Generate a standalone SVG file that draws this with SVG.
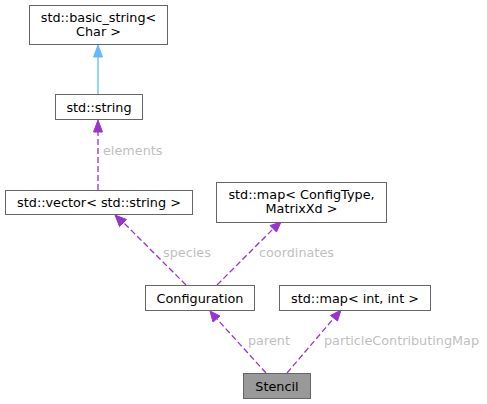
<svg xmlns="http://www.w3.org/2000/svg" width="487" height="404" viewBox="0 0 487 404">
<style>
.n{fill:#fff;stroke:#666;stroke-width:1}
.t{font-family:"DejaVu Sans",sans-serif;font-size:12.8px;fill:#000;text-anchor:middle}
.l{font-family:"DejaVu Sans",sans-serif;font-size:12.8px;fill:#bfbfbf}
.e{fill:none;stroke:#9a32cd;stroke-width:1.3;stroke-dasharray:6,3}
.h{fill:#9a32cd;stroke:#9a32cd}
</style>
<rect width="487" height="404" fill="#fff"/>
<g id="edges">
<line x1="98" y1="94" x2="98" y2="56" stroke="#63b8ff" stroke-width="1.3"/>
<polygon points="93.5,57 98,45 102.5,57" fill="#63b8ff" stroke="#63b8ff"/>
<line class="e" x1="98" y1="190" x2="98" y2="131"/>
<polygon class="h" points="93.5,132 98,120 102.5,132"/>
<text class="l" x="103" y="155">elements</text>
<line class="e" x1="186" y1="285" x2="123" y2="222"/>
<polygon class="h" points="119.5,226.5 115,215 126.5,219.5"/>
<text class="l" x="163" y="257">species</text>
<line class="e" x1="217" y1="285" x2="273" y2="229"/>
<polygon class="h" points="270,225.5 281,222 276.5,232"/>
<text class="l" x="259" y="257">coordinates</text>
<line class="e" x1="266" y1="373" x2="217" y2="319"/>
<polygon class="h" points="213,322 210,311 220,316"/>
<text class="l" x="248" y="345">parent</text>
<line class="e" x1="287" y1="373" x2="334" y2="318"/>
<polygon class="h" points="330.5,315.5 341,310 337.5,321"/>
<text class="l" x="324" y="345">particleContributingMap</text>
</g>
<g id="basic_string">
<rect class="n" x="29.5" y="5.5" width="138" height="39"/>
<text class="t" x="98.5" y="21.5">std::basic_string&lt;</text>
<text class="t" x="98.5" y="36">Char &gt;</text>
</g>
<g id="string">
<rect class="n" x="55.5" y="94.5" width="87" height="25"/>
<text class="t" x="99" y="111.5">std::string</text>
</g>
<g id="vector">
<rect class="n" x="5.5" y="190.5" width="187" height="24"/>
<text class="t" x="99" y="207">std::vector&lt; std::string &gt;</text>
</g>
<g id="mapConfig">
<rect class="n" x="216.5" y="182.5" width="170" height="40"/>
<text class="t" x="301.5" y="198.5">std::map&lt; ConfigType,</text>
<text class="t" x="301.5" y="213">MatrixXd &gt;</text>
</g>
<g id="Configuration">
<rect class="n" x="145.5" y="285.5" width="109" height="25"/>
<text class="t" x="200" y="302.5">Configuration</text>
</g>
<g id="mapInt">
<rect class="n" x="279.5" y="285.5" width="151" height="25"/>
<text class="t" x="355" y="302.5">std::map&lt; int, int &gt;</text>
</g>
<g id="Stencil">
<rect x="243.5" y="373.5" width="67" height="25" fill="#999" stroke="#666"/>
<text class="t" x="277" y="390.5">Stencil</text>
</g>
</svg>
